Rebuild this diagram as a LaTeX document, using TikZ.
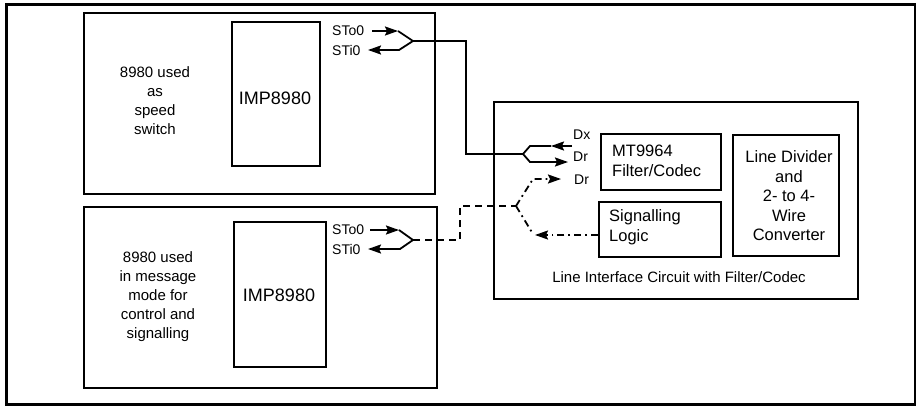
\documentclass[tikz,border=0pt]{standalone}
\usepackage{fontspec}
\setmainfont{Liberation Sans}
\usetikzlibrary{arrows.meta}
\begin{document}
\begin{tikzpicture}[x=1pt,y=-1pt,
 box/.style={draw, line width=2pt, inner sep=0pt, anchor=north west},
 wire/.style={line width=1.8pt},
 tip/.style={-{Stealth[length=13pt,width=9pt,inset=2pt]}},
 arr/.style={wire,tip},
 dsh/.style={wire, dash pattern=on 7pt off 5pt},
 ddot/.style={wire, dash pattern=on 7pt off 4pt on 1.8pt off 4pt},
 lbl/.style={font=\fontsize{15}{19}\selectfont, inner sep=0pt},
 blbl/.style={font=\fontsize{16.5}{19.5}\selectfont, inner sep=0pt},
 plbl/.style={font=\fontsize{14}{17}\selectfont, inner sep=0pt, anchor=west},
 lblw/.style={blbl, anchor=west, align=left},
]
\useasboundingbox (0,0) rectangle (916,405);
\node[box, line width=2.6pt, minimum width=909pt, minimum height=400pt] (frame) at (5,3) {};
% boxes
\node[box, minimum width=351pt, minimum height=181pt] (spd) at (83,12) {};
\node[box, minimum width=353pt, minimum height=181pt] (msg) at (83,206) {};
\node[box, minimum width=88pt, minimum height=144pt] (imp1) at (231,21) {};
\node[box, minimum width=92pt, minimum height=145pt] (imp2) at (233,221) {};
\node[box, minimum width=364pt, minimum height=197pt] (lic) at (493,101) {};
\node[box, minimum width=120pt, minimum height=56pt] (mt) at (600,133) {};
\node[box, minimum width=122pt, minimum height=55pt] (sig) at (598,201) {};
\node[box, minimum width=106pt, minimum height=121pt] (ld) at (732,134) {};
% texts
\node[lbl, align=center] (t1) at (155,101) {8980 used\\as\\speed\\switch};
\node[lbl, align=center] (t2) at (158,297) {8980 used\\in message\\mode for\\control and\\signalling};
\node[blbl, font=\fontsize{18}{21}\selectfont] (i1) at (275,98) {IMP8980};
\node[blbl, font=\fontsize{18}{21}\selectfont] (i2) at (279,295) {IMP8980};
\node[lblw] (mtt) at (612,161) {MT9964\\Filter/Codec};
\node[lblw] (sigt) at (609,227) {Signalling\\Logic};
\node[blbl, align=center] (ldt) at (789,196) {Line Divider\\and\\2- to 4-\\Wire\\Converter};
\node[lbl] (lict) at (679,277) {Line Interface Circuit with Filter/Codec};
% port labels
\node[plbl] (sto1) at (332,31) {STo0};
\node[plbl] (sti1) at (332,50) {STi0};
\node[plbl] (sto2) at (332,230) {STo0};
\node[plbl] (sti2) at (332,249) {STi0};
\node[plbl] (dx) at (573,135) {Dx};
\node[plbl] (dr1) at (573,157) {Dr};
\node[plbl] (dr2) at (574,180) {Dr};
% coordinates
\coordinate (a1) at (372,31); \coordinate (a1t) at (398,31);
\coordinate (j1) at (413,41);
\coordinate (b1) at (399,50); \coordinate (b1t) at (368,50);
\coordinate (c1) at (466,41); \coordinate (c2) at (466,154);
\coordinate (j2) at (523,154);
\coordinate (dxa) at (530,146); \coordinate (dxt) at (551,146); \coordinate (dxs) at (572,146);
\coordinate (dra) at (530,162); \coordinate (drt) at (568,162);
\coordinate (a2) at (370,230); \coordinate (a2t) at (399,230);
\coordinate (j3) at (413,240);
\coordinate (b2) at (400,249); \coordinate (b2t) at (368,249);
\coordinate (d1) at (460,240); \coordinate (d2) at (460,206);
\coordinate (j4) at (516,206);
\coordinate (e1) at (533,179); \coordinate (e1t) at (561,179);
\coordinate (f1) at (533,234); \coordinate (sigin) at (598,235); \coordinate (f1t) at (535,235);
% top solid connection
\draw[arr] (a1) -- (a1t);
\draw[wire, line join=miter] (a1t) -- (j1) -- (c1) -- (c2) -- (j2);
\draw[arr] (j1) -- (b1) -- (b1t);
\draw[wire] (j2) -- (dxa) -- (dxt);
\draw[arr] (dxs) -- (dxt);
\draw[arr] (j2) -- (dra) -- (drt);
% bottom connection
\draw[arr] (a2) -- (a2t);
\draw[wire] (a2t) -- (j3);
\draw[arr] (j3) -- (b2) -- (b2t);
\draw[dsh] (j3) -- (d1) -- (d2) -- (j4);
\draw[ddot,tip] (j4) -- (e1) -- (e1t);
\draw[ddot] (j4) -- (f1);
\draw[ddot,tip] (sigin) -- (f1t);
\end{tikzpicture}
\end{document}
